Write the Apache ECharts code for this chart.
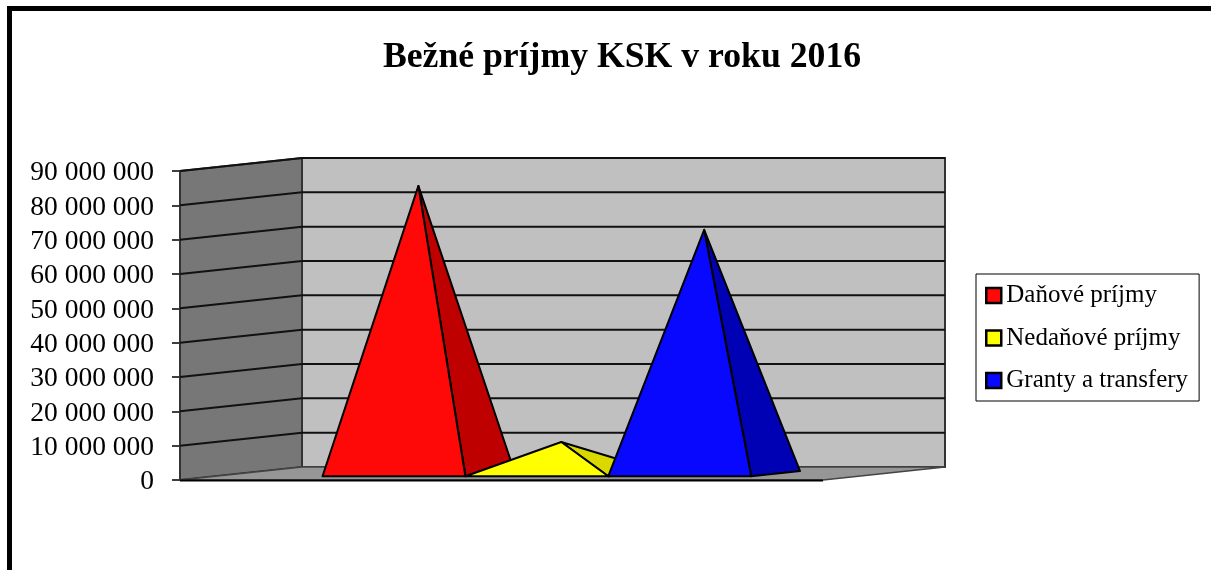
<!DOCTYPE html>
<html><head><meta charset="utf-8">
<style>html,body{margin:0;padding:0;background:#fff}#c{width:1211px;height:570px}</style>
<script src="https://cdn.jsdelivr.net/npm/echarts@6/dist/echarts.min.js"></script>
</head><body><div id="c"></div>
<script>
const titleText = 'Bežné príjmy KSK v roku 2016';
const categories = ['2016'];
const seriesNames = ['Daňové príjmy', 'Nedaňové príjmy', 'Granty a transfery'];
const seriesValues = [83800000, 9200000, 71000000];
const frontColors = ['#ff0808', '#ffff00', '#0808ff'];
const sideColors = ['#bf0000', '#d9d900', '#0000b4'];
const yTicks = [10000000,20000000,30000000,40000000,50000000,60000000,70000000,80000000,90000000];
const DX = 122, DY = -13, D1 = 0.29, D2 = 0.69, DM = 0.49, GAP = 1.5;
const FONT = '"Liberation Serif","Times New Roman",serif';
const INK = '#000';

const chart = echarts.init(document.getElementById('c'), null, {renderer:'canvas'});

function wallsItem(params, api){
  const g = params.coordSys;
  const xl = g.x, xr = g.x + g.width, yt = g.y, yb = g.y + g.height;
  const poly = (pts, fill, stroke, lw) => ({type:'polygon', shape:{points:pts},
    style:{fill:fill, stroke:stroke, lineWidth:lw}});
  return {type:'group', children:[
    poly([[xl+DX,yt+DY],[xr+DX,yt+DY],[xr+DX,yb+DY],[xl+DX,yb+DY]], '#c0c0c0', '#333', 2),
    poly([[xl,yt],[xl+DX,yt+DY],[xl+DX,yb+DY],[xl,yb]], '#777777', '#333', 2),
    poly([[xl,yb],[xl+DX,yb+DY],[xr+DX,yb+DY],[xr,yb]], '#969696', '#444', 1.5),
    {type:'line', shape:{x1:xl,y1:yb+0.5,x2:xr,y2:yb+0.5}, style:{stroke:'#000',lineWidth:2}}
  ]};
}
function gridItem(params, api){
  const p = api.coord([0, api.value(1)]);
  const g = params.coordSys;
  const xl = g.x, xr = g.x + g.width, y = p[1];
  const ln = (x1,y1,x2,y2) => ({type:'line', shape:{x1,y1,x2,y2}, style:{stroke:'#111',lineWidth:2}});
  return {type:'group', children:[ ln(xl,y,xl+DX,y+DY), ln(xl+DX,y+DY,xr+DX,y+DY) ]};
}
function pyramidItem(i){
  return function(params, api){
    const w = api.size([1,0])[0] / (seriesValues.length + GAP);
    const top = api.coord([0, api.value(1)]);
    const y0 = api.coord([0, 0])[1];
    const left = top[0] - w * seriesValues.length / 2 + i * w;
    const apex = [left + w/2 + DM*DX, top[1] + DM*DY];
    const fl = [left + D1*DX, y0 + D1*DY];
    const fr = [left + w + D1*DX, y0 + D1*DY];
    const br = [left + w + D2*DX, y0 + D2*DY];
    return {type:'group', children:[
      {type:'polygon', shape:{points:[fr,br,apex]}, style:{fill:sideColors[i],stroke:INK,lineWidth:2,lineJoin:'round'}},
      {type:'polygon', shape:{points:[fl,fr,apex]}, style:{fill:frontColors[i],stroke:INK,lineWidth:2,lineJoin:'round'}}
    ]};
  };
}

chart.setOption({
  animation:false,
  backgroundColor:'#fff',
  title:{text:titleText, left:622, top:40, textAlign:'center', padding:0,
    textStyle:{fontFamily:FONT,fontWeight:'bold',fontSize:35.7,color:'#000'}},
  grid:{left:180, top:171, width:643, height:309, containLabel:false},
  xAxis:{type:'category', data:categories, axisLine:{show:false}, axisTick:{show:false}, axisLabel:{show:false}, splitLine:{show:false}},
  yAxis:{type:'value', min:0, max:90000000, interval:10000000,
    axisLine:{show:false}, splitLine:{show:false},
    axisTick:{show:true, length:8, lineStyle:{color:'#000',width:1.5}},
    axisLabel:{margin:26, verticalAlign:'top', lineHeight:4, fontFamily:FONT, fontSize:27.5, color:'#000',
      formatter:v=>String(v).replace(/\B(?=(\d{3})+$)/g,' ')}},
  legend:{left:976, top:274, orient:'vertical', padding:[9,11,8,9], itemGap:17.5,
    borderColor:'#000', borderWidth:1, backgroundColor:'#fff',
    itemWidth:15, itemHeight:15, icon:'rect', itemStyle:{borderWidth:2.5, borderColor:'#000'},
    textStyle:{fontFamily:FONT, fontSize:25, color:'#000'},
    data:seriesNames.map((n,i)=>({name:n, itemStyle:{color:frontColors[i],borderColor:'#000',borderWidth:2.5}}))},
  graphic:[{type:'polyline', silent:true, z:100,
    shape:{points:[[9.5,570],[9.5,8.5],[1211,8.5]]},
    style:{stroke:'#000',fill:null,lineWidth:5}}],
  series:[
    {type:'custom', name:'_walls', silent:true, z:1, renderItem:wallsItem, data:[[0,0]], encode:{x:0,y:1}},
    {type:'custom', name:'_grid', silent:true, z:2, renderItem:gridItem, data:yTicks.map(v=>[0,v]), encode:{x:0,y:1}},
    ...seriesNames.map((n,i)=>({type:'custom', name:n, z:3+i, renderItem:pyramidItem(i),
      itemStyle:{color:frontColors[i]}, data:[[0,seriesValues[i]]], encode:{x:0,y:1}}))
  ]
});
</script></body></html>
